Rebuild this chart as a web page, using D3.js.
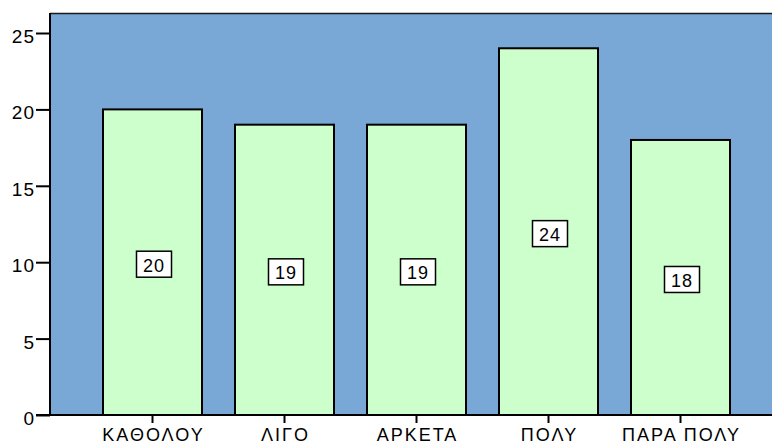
<!DOCTYPE html>
<html>
<head>
<meta charset="utf-8">
<script src="https://cdn.jsdelivr.net/npm/d3@7"></script>
<style>
  html, body { margin: 0; padding: 0; background: #ffffff; }
  svg { display: block; font-family: "Liberation Sans", Arial, sans-serif; }
</style>
</head>
<body>
<svg id="chart" width="772" height="445"></svg>
<script>
// Response categories and counts
const categories = ["ΚΑΘΟΛΟΥ", "ΛΙΓΟ", "ΑΡΚΕΤΑ", "ΠΟΛΥ", "ΠΑΡΑ ΠΟΛΥ"];
const counts = [20, 19, 19, 24, 18];
const yTicks = [0, 5, 10, 15, 20, 25];

const svg = d3.select("#chart");
const W = 772;
const plot = { left: 50, top: 13, right: 772, bottom: 415 };

const x = d3.scaleBand()
  .domain(categories)
  .range([86.5, 746.5])
  .paddingInner(0.25)
  .paddingOuter(0.125);

const y = d3.scaleLinear()
  .domain([0, 25])
  .range([plot.bottom, plot.bottom - 382]);

// Plot background
svg.append("rect")
  .attr("x", plot.left)
  .attr("y", plot.top)
  .attr("width", plot.right - plot.left)
  .attr("height", plot.bottom - plot.top)
  .attr("fill", "#7aa8d6");

// Top frame line
svg.append("line")
  .attr("x1", plot.left).attr("x2", plot.right)
  .attr("y1", plot.top + 0.5).attr("y2", plot.top + 0.5)
  .attr("stroke", "#1a1a1a").attr("stroke-width", 1.5);

// Bars
svg.append("g").selectAll("rect")
  .data(categories)
  .join("rect")
  .attr("x", d => x(d))
  .attr("y", (d, i) => y(counts[i]))
  .attr("width", x.bandwidth())
  .attr("height", (d, i) => y(0) - y(counts[i]))
  .attr("fill", "#ccffcc")
  .attr("stroke", "#000")
  .attr("stroke-width", 2);

// Value labels in boxes at mid-height
const lbl = svg.append("g").selectAll("g")
  .data(categories)
  .join("g")
  .attr("transform", (d, i) => `translate(${x(d) + x.bandwidth() / 2 + 1},${y(counts[i] / 2) + 2})`);
lbl.append("rect")
  .attr("x", -17).attr("y", -13)
  .attr("width", 35).attr("height", 26)
  .attr("fill", "#ffffff")
  .attr("stroke", "#000")
  .attr("stroke-width", 1.5);
lbl.append("text")
  .attr("text-anchor", "middle")
  .attr("dy", "0.36em")
  .attr("y", 1)
  .attr("x", 0.5)
  .attr("font-size", 18)
  .attr("letter-spacing", 1)
  .attr("fill", "#000")
  .text((d, i) => counts[i]);

// Y axis
const yAxis = svg.append("g")
  .attr("transform", `translate(${plot.left},0)`)
  .call(d3.axisLeft(y).tickValues(yTicks).tickSize(14).tickPadding(1).tickSizeOuter(0));
yAxis.select(".domain").attr("stroke", "#000").attr("stroke-width", 2)
  .attr("d", `M0,${plot.top}V${plot.bottom}`);
yAxis.selectAll(".tick line").attr("stroke", "#000").attr("stroke-width", 2);
yAxis.selectAll(".tick text")
  .attr("font-size", 19).attr("letter-spacing", 1).attr("fill", "#000")
  .attr("dy", "0.5em")
  .attr("font-family", "Liberation Sans, Arial, sans-serif");

// X axis
const xAxis = svg.append("g")
  .attr("transform", `translate(0,${plot.bottom})`)
  .call(d3.axisBottom(x).tickSize(8).tickPadding(5).tickSizeOuter(0));
xAxis.select(".domain").attr("stroke", "#000").attr("stroke-width", 2)
  .attr("d", `M${plot.left - 14},0H${W}`);
xAxis.selectAll(".tick line").attr("stroke", "#000").attr("stroke-width", 2);
xAxis.selectAll(".tick text")
  .attr("font-size", 18).attr("letter-spacing", 2).attr("x", 1).attr("fill", "#000")
  .attr("font-family", "Liberation Sans, Arial, sans-serif");
</script>
</body>
</html>
